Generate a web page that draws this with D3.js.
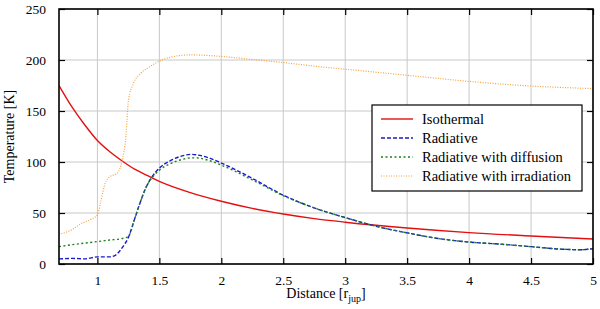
<!DOCTYPE html>
<html>
<head>
<meta charset="utf-8">
<script src="https://cdn.jsdelivr.net/npm/d3@7"></script>
<style>
  body { margin: 0; background: #fff; }
  svg text { font-family: "Liberation Serif", "Times New Roman", Times, "DejaVu Serif", serif !important; }
</style>
</head>
<body>
<script>
// tick values
var xTicks = [1, 1.5, 2, 2.5, 3, 3.5, 4, 4.5, 5];
var yTicks = [0, 50, 100, 150, 200, 250];

// series: [distance, temperature]
var isothermal = [[0.69,175],[0.8,153],[0.9,136],[1.0,121],[1.1,110],[1.2,101],[1.3,93],[1.4,87],[1.5,81],
  [1.75,70],[2.0,61.5],[2.25,54.5],[2.5,49],[2.75,44.5],[3.0,41],[3.5,35.3],[4.0,30.8],[4.5,27.5],[5.0,24.5]];

var radiative = [[0.69,5],[0.8,5.5],[0.9,5],[1.0,7],[1.1,7],[1.15,9],[1.2,16],[1.25,26],[1.3,44],[1.35,62],
  [1.4,77],[1.45,87],[1.5,94],[1.6,102],[1.7,106.5],[1.75,107.5],[1.8,107],[1.9,104],[2.0,99],[2.25,84],
  [2.5,67.5],[2.75,55],[3.0,45.5],[3.25,37],[3.5,30.5],[3.75,25],[4.0,21.5],[4.25,19.5],[4.5,17],[4.75,14.5],
  [4.9,14],[5.0,15]];

var diffusion = [[0.69,17],[0.8,19],[0.9,20.5],[1.0,22],[1.1,23.5],[1.2,25],[1.25,27],[1.3,44],[1.35,62],
  [1.4,77],[1.45,86],[1.5,92],[1.6,99],[1.7,103],[1.75,104],[1.8,104],[1.9,101.5],[2.0,97],[2.25,82.5],
  [2.5,67],[2.75,55],[3.0,45.5],[3.25,37],[3.5,30.5],[3.75,25],[4.0,21.5],[4.25,19.5],[4.5,17],[4.75,14.5],
  [4.9,14],[5.0,15]];

var irradiation = [[0.69,29],[0.8,34],[0.86,39],[0.95,44],[1.0,48],[1.025,60],[1.065,80],[1.105,86],[1.16,89],
  [1.2,102],[1.23,125],[1.25,160],[1.29,177],[1.35,187],[1.43,194],[1.5,199],[1.6,203],[1.75,205],[2.0,203.5],
  [2.25,200.5],[2.5,197.5],[2.75,194],[3.0,191],[3.5,185],[4.0,179],[4.5,174.5],[5.0,172]];

var seriesNames = ["Isothermal", "Radiative", "Radiative with diffusion", "Radiative with irradiation"];
var seriesData = [isothermal, radiative, diffusion, irradiation];
var seriesColors = ["#e41010", "#1a1acc", "#1a801a", "#f5a040"];
var seriesDash = [null, "4,2", "2,2.5", "1,1.5"];
var seriesWidth = [1.4, 1.4, 1.4, 1.2];

var W = 600, H = 309;
var margin = {top: 9, right: 7, bottom: 45, left: 59};
var width = W - margin.left - margin.right,
    height = H - margin.top - margin.bottom;

var svg = d3.select("body").append("svg")
  .attr("width", W)
  .attr("height", H)
  .attr("font-family", "'Liberation Serif', 'Times New Roman', serif");

var g = svg.append("g")
  .attr("transform", "translate(" + margin.left + "," + margin.top + ")");

var x = d3.scaleLinear().domain([0.69, 5]).range([0, width]);
var y = d3.scaleLinear().domain([0, 250]).range([height, 0]);

// grid
g.append("g").selectAll("line").data(xTicks).enter().append("line")
  .attr("x1", function(d){ return x(d); }).attr("x2", function(d){ return x(d); })
  .attr("y1", 0).attr("y2", height)
  .attr("stroke", "#c8c8c8").attr("stroke-width", 1);
g.append("g").selectAll("line").data(yTicks).enter().append("line")
  .attr("y1", function(d){ return y(d); }).attr("y2", function(d){ return y(d); })
  .attr("x1", 0).attr("x2", width)
  .attr("stroke", "#c8c8c8").attr("stroke-width", 1);

// curves
g.append("clipPath").attr("id", "clip").append("rect")
  .attr("width", width).attr("height", height);

var line = d3.line()
  .x(function(d){ return x(d[0]); })
  .y(function(d){ return y(d[1]); })
  .curve(d3.curveMonotoneX);

var curves = g.append("g").attr("clip-path", "url(#clip)");
seriesData.forEach(function(s, i){
  curves.append("path")
    .attr("d", line(s))
    .attr("fill", "none")
    .attr("stroke", seriesColors[i])
    .attr("stroke-width", seriesWidth[i])
    .attr("stroke-dasharray", seriesDash[i]);
});

// axes, ticks inward on all four sides
var tickStyle = function(sel){
  sel.attr("font-family", null);
  sel.select(".domain").remove();
  sel.selectAll(".tick line").attr("stroke", "#000").attr("stroke-width", 1.2);
  sel.selectAll(".tick text").attr("font-size", 13.5).attr("fill", "#000");
};

g.append("g")
  .attr("transform", "translate(0," + height + ")")
  .call(d3.axisBottom(x).tickValues(xTicks).tickSizeInner(-6).tickPadding(11).tickFormat(d3.format("")))
  .call(tickStyle);
g.append("g")
  .call(d3.axisTop(x).tickValues(xTicks).tickSizeInner(-6).tickFormat(""))
  .call(tickStyle);
g.append("g")
  .call(d3.axisLeft(y).tickValues(yTicks).tickSizeInner(-6).tickPadding(13))
  .call(tickStyle);
g.append("g")
  .attr("transform", "translate(" + width + ",0)")
  .call(d3.axisRight(y).tickValues(yTicks).tickSizeInner(-6).tickFormat(""))
  .call(tickStyle);

// frame
g.append("rect")
  .attr("width", width).attr("height", height)
  .attr("fill", "none").attr("stroke", "#000").attr("stroke-width", 1.6);

// axis titles
var xt = g.append("text")
  .attr("x", width / 2).attr("y", height + 34)
  .attr("text-anchor", "middle").attr("font-size", 14);
xt.append("tspan").text("Distance [r");
xt.append("tspan").attr("font-size", 10).attr("dy", 3.5).text("jup");
xt.append("tspan").attr("dy", -3.5).text("]");

svg.append("text")
  .attr("transform", "translate(14," + (margin.top + height / 2) + ") rotate(-90)")
  .attr("text-anchor", "middle").attr("font-size", 14)
  .text("Temperature [K]");

// legend
var legend = svg.append("g").attr("transform", "translate(372,105)");
legend.append("rect")
  .attr("width", 210).attr("height", 86)
  .attr("fill", "#fff").attr("stroke", "#000").attr("stroke-width", 1.2);
seriesNames.forEach(function(name, i){
  var yy = 14 + i * 19;
  legend.append("line")
    .attr("x1", 9).attr("x2", 41).attr("y1", yy).attr("y2", yy)
    .attr("stroke", seriesColors[i])
    .attr("stroke-width", seriesWidth[i])
    .attr("stroke-dasharray", seriesDash[i]);
  legend.append("text")
    .attr("x", 50).attr("y", yy + 5)
    .attr("font-size", 14.5)
    .text(name);
});
</script>
</body>
</html>
